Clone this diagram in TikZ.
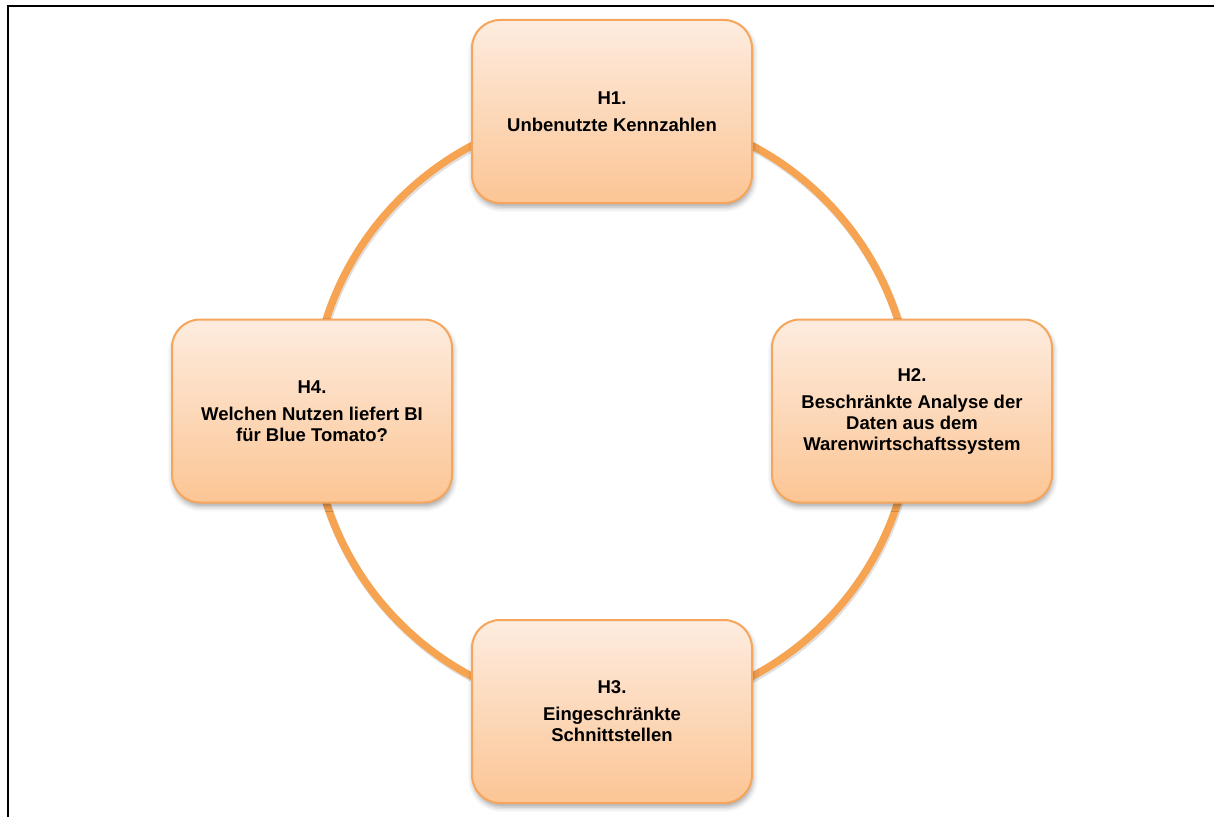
\documentclass[tikz,border=0pt]{standalone}
\usepackage{fontspec}
\setmainfont{Liberation Sans}
\usetikzlibrary{calc,shadows.blur}
\definecolor{ringorange}{HTML}{F7A452}
\definecolor{boxtop}{HTML}{FDECDF}
\definecolor{boxbottom}{HTML}{FCC594}
\definecolor{boxline}{HTML}{F6A65C}

\begin{document}
\begin{tikzpicture}[x=1pt,y=-1pt,
  hbox/.style={rectangle, rounded corners=28pt, draw=boxline, line width=2pt,
    top color=boxtop, bottom color=boxbottom,
    minimum width=280pt, minimum height=183pt, inner sep=0pt,
    align=center, font=\fontsize{18.5}{21}\selectfont\bfseries,
    blur shadow={shadow xshift=1pt, shadow yshift=-4pt,
      shadow blur radius=5pt, shadow opacity=35}},
  ring/.style={draw=ringorange, line width=7.5pt},
  ringshade/.style={draw=black, opacity=.12, line width=8pt},
  frameline/.style={draw=black, line width=2.6pt}]

\useasboundingbox (0,0) rectangle (1214,816);

% outer frame (left and top edges)
\draw[frameline] (8,820) -- (8,6) -- (1220,6);

% the cycle ring behind the boxes
\coordinate (c) at (612,411);
\draw[ringshade] ($(c)+(1,2)$) circle[radius=300pt];
\draw[ring] (c) circle[radius=300pt];

% hypothesis boxes
\node[hbox] (h1) at (612,111.5) {H1.\\[6pt]Unbenutzte Kennzahlen};
\node[hbox] (h2) at (912,411) {H2.\\[6pt]Beschränkte Analyse der\\Daten aus dem\\Warenwirtschaftssystem};
\node[hbox] (h3) at (612,711.5) {H3.\\[6pt]Eingeschränkte\\Schnittstellen};
\node[hbox] (h4) at (312,411) {H4.\\[6pt]Welchen Nutzen liefert BI\\für Blue Tomato?};
\end{tikzpicture}
\end{document}
